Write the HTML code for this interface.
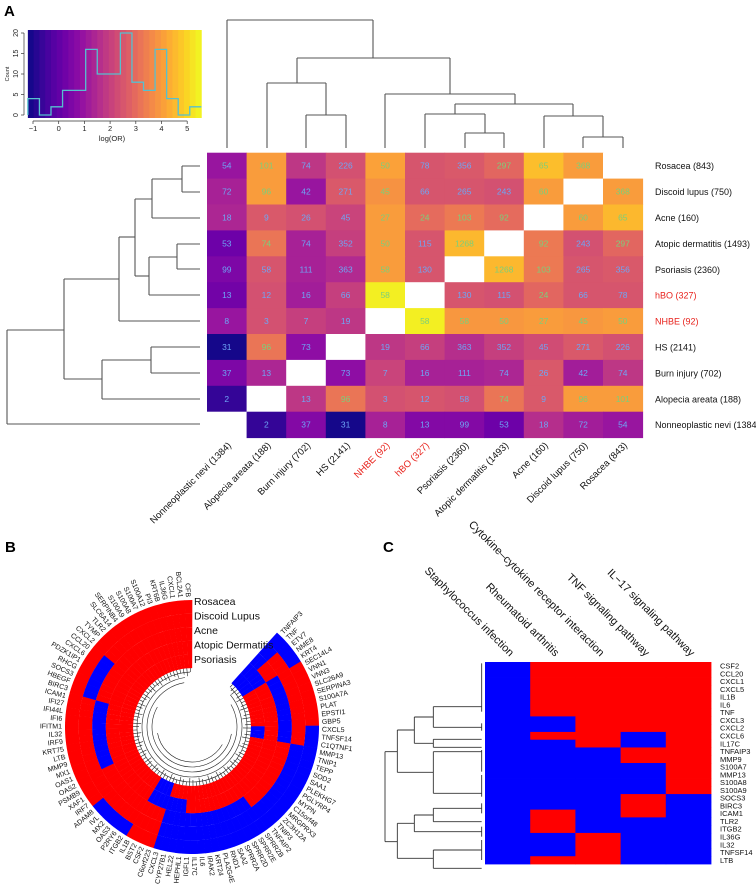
<!DOCTYPE html>
<html><head><meta charset="utf-8">
<style>
html,body{margin:0;padding:0;background:#fff;}
svg{display:block;font-family:"Liberation Sans",Arial,sans-serif;}
</style></head>
<body>
<svg id="fig" width="756" height="889" viewBox="0 0 756 889" xmlns="http://www.w3.org/2000/svg">
<text x="4" y="16" font-size="15" font-weight="bold">A</text>
<text x="5" y="552" font-size="15" font-weight="bold">B</text>
<text x="383" y="552" font-size="15" font-weight="bold">C</text>
<g id="gA"></g>
<g id="gKey"></g>
<g id="gB"></g>
<g id="gC"></g>
</svg>
<script>
// ---------- Panel A data ----------
const rowLabels = ["Rosacea (843)","Discoid lupus (750)","Acne (160)","Atopic dermatitis (1493)","Psoriasis (2360)","hBO (327)","NHBE (92)","HS (2141)","Burn injury (702)","Alopecia areata (188)","Nonneoplastic nevi (1384)"];
const colLabels = ["Nonneoplastic nevi (1384)","Alopecia areata (188)","Burn injury (702)","HS (2141)","NHBE (92)","hBO (327)","Psoriasis (2360)","Atopic dermatitis (1493)","Acne (160)","Discoid lupus (750)","Rosacea (843)"];
const logOR = [
 [1.0,4.0,1.8,2.4,4.1,2.5,2.6,2.9,4.6,4.0,null],
 [1.3,4.0,1.0,2.6,3.8,2.5,2.5,2.4,4.0,null,4.0],
 [1.4,2.6,2.4,2.1,4.0,3.0,3.3,3.0,null,4.0,4.5],
 [0.2,3.2,1.3,2.0,4.0,2.5,4.5,null,3.3,2.4,2.9],
 [0.5,2.5,1.3,1.5,4.0,2.5,null,4.5,3.3,2.5,2.6],
 [0.3,2.4,1.2,2.0,5.4,null,2.5,2.4,2.9,2.5,2.5],
 [1.0,2.4,2.0,1.8,null,5.4,3.9,3.9,4.0,3.9,4.0],
 [-1.1,3.2,0.8,null,1.8,2.0,1.6,2.0,2.3,2.6,2.4],
 [0.5,1.4,null,0.8,2.1,1.3,1.3,1.4,2.6,1.2,1.8],
 [-0.7,null,1.8,3.2,2.4,2.5,2.4,3.2,2.6,4.0,4.0],
 [null,-0.7,0.6,-1.1,1.3,0.6,0.6,0.2,1.6,1.2,1.0]
];
const counts = [
 [54,101,74,226,50,78,356,297,65,368,null],
 [72,96,42,271,45,66,265,243,60,null,368],
 [18,9,26,45,27,24,103,92,null,60,65],
 [53,74,74,352,50,115,1268,null,92,243,297],
 [99,58,111,363,58,130,null,1268,103,265,356],
 [13,12,16,66,58,null,130,115,24,66,78],
 [8,3,7,19,null,58,58,50,27,45,50],
 [31,96,73,null,19,66,363,352,45,271,226],
 [37,13,null,73,7,16,111,74,26,42,74],
 [2,null,13,96,3,12,58,74,9,96,101],
 [null,2,37,31,8,13,99,53,18,72,54]
];
const redLabels = ["hBO (327)","NHBE (92)"];
const histEdges = [-1.2,-0.75,-0.3,0.15,0.6,1.05,1.5,1.95,2.4,2.85,3.3,3.75,4.2,4.65,5.1,5.55];
const histCounts = [4,0,2,6,6,16,10,10,20,8,6,16,4,0,2];
const keyTicksX = [-1,0,1,2,3,4,5];
const keyTicksY = [0,5,10,15,20];

// ---------- Panel C data ----------
const pathways = ["Staphylococcus infection","Rheumatoid arthritis","Cytokine\u2013cytokine receptor interaction","TNF signaling pathway","IL\u221217 signaling pathway"];
const cGenes = ["CSF2","CCL20","CXCL1","CXCL5","IL1B","IL6","TNF","CXCL3","CXCL2","CXCL6","IL17C","TNFAIP3","MMP9","S100A7","MMP13","S100A8","S100A9","SOCS3","BIRC3","ICAM1","TLR2","ITGB2","IL36G","IL32","TNFSF14","LTB"];
const cMatrix = [
 [0,1,1,1,1],[0,1,1,1,1],[0,1,1,1,1],[0,1,1,1,1],[0,1,1,1,1],[0,1,1,1,1],[0,1,1,1,1],
 [0,0,1,1,1],[0,0,1,1,1],[0,1,1,0,1],[0,0,1,0,1],[0,0,0,1,1],[0,0,0,1,1],
 [0,0,0,0,1],[0,0,0,0,1],[0,0,0,0,1],[0,0,0,0,1],
 [0,0,0,1,0],[0,0,0,1,0],[0,1,0,1,0],[0,1,0,0,0],[0,1,0,0,0],
 [0,0,1,0,0],[0,0,1,0,0],[0,0,1,0,0],[0,1,1,0,0]
];

// ---------- Panel B data ----------
const bDiseases = ["Rosacea","Discoid Lupus","Acne","Atopic Dermatitis","Psoriasis"];
const bGenes = ["TNFAIP3","TNF","ETV7","NME8","KRT4","SEC14L4","VNN1","VNN3","SLC26A9","SERPINA3","S100A7A","PLAT","EPSTI1","GBP5","CXCL5","TNFSF14","C1QTNF1","MMP13","TNIP1","TEPP","SOD2","SAA1","PLEKHG7","PGLYRP4","MYPN","C15orf48","MRGPRX3","ZC3H12A","TNIP3","TNFAIP2","SPRR2B","SPRR2E","SPRR2D","SPRR2A","SAA2","RND1","PLA2G4E","KRT24","IRAK2","IL6","IL17C","IGFL1","HEPHL1","HEL22","CYP27B1","CXCL3","C6orf223","CSF2","BST2","IL1B","ITGB2","P2RY6","OAS3","MX2","IVL","ADAM8","IRF7","XAF1","PSMB9","OAS2","OAS1","MX1","MMP9","LTB","KRT75","IRF9","IL32","IFITM1","IFI6","IFI44L","IFI27","ICAM1","BIRC3","HBEGF","SOCS3","RHCG","PDZK1IP1","CXCL6","CCL20","CXCL2","TYMP","TLR2","SLC6A14","SERPINB4","S100A9","S100A8","S100A7","S100A12","PI3","KRT6B","IL36G","CXCL1","BCL2A1","CFB"];
const bStatus = ["00000","00000","01100","01100","01100","11011","11011","11011","11011","11011","11011","11011","11011","11011",
 "01010","01010","01010","00111","00111","00111","00111","00111","00111","00111","00111","00111","00111","00111","00111","00111",
 "00011","00011","00011","00011","00011","00011","00011","00011","00011","00011","00011","00011","00001","00001","00001","00001",
 "11100","11100","11100","11100","01111","01111","01111","01111","01111","01111",
 "11111","11111","11111","11111","11011","11011","11011","11011","11011","11011","11011","11011","11011","11011","11011","11011",
 "10111","10111","10111","10111","10111","10111","10111",
 "11111","11111","11111","11111","11111","11111","11111","11111","11111","11111","11111","11111","11111","11111","11111","11111","11111","11111"];

const NS="http://www.w3.org/2000/svg";
function mk(tag, attrs, parent){const e=document.createElementNS(NS,tag);for(const k in attrs)e.setAttribute(k,attrs[k]);parent.appendChild(e);return e;}
const plasmaStops=["#0d0887","#41049d","#6a00a8","#8f0da4","#b12a90","#cc4778","#e16462","#f2844b","#fca636","#fcce25","#f0f921"];
function hex(c){return [parseInt(c.slice(1,3),16),parseInt(c.slice(3,5),16),parseInt(c.slice(5,7),16)];}
function plasma(t){t=Math.max(0,Math.min(1,t));const p=t*10,i=Math.min(9,Math.floor(p)),f=p-i;const a=hex(plasmaStops[i]),b=hex(plasmaStops[i+1]);return "rgb("+a.map((v,k)=>Math.round(v+(b[k]-v)*f)).join(",")+")";}
const LMIN=-1.2,LMAX=5.55;
function colorOf(v){return plasma((v-LMIN)/(LMAX-LMIN));}

// ---------- Panel A heatmap ----------
const gA=document.getElementById('gA');
const hx0=207,hy0=152.7,cw=39.6,rh=25.9;
const xCol=c=>hx0+c*cw, yRow=r=>hy0+r*rh;
for(let r=0;r<rowLabels.length;r++){
  for(let c=0;c<colLabels.length;c++){
    const v=logOR[r][c];
    const rect=mk('rect',{x:xCol(c),y:yRow(r),width:cw+0.5,height:rh+0.5,fill:v===null?'#ffffff':colorOf(v)},gA);
    
    
    if(counts[r][c]!==null){
      const t=mk('text',{x:xCol(c)+cw/2,y:yRow(r)+rh/2+3,'font-size':8.5,'text-anchor':'middle',fill:v<2.9?'#6ea6f5':'#7ccf7a'},gA);
      t.textContent=counts[r][c];
      
      
    }
  }
  const rl=mk('text',{x:655,y:yRow(r)+rh/2+3.5,'font-size':9,fill:redLabels.includes(rowLabels[r])?'#e8231d':'#111'},gA);
  rl.textContent=rowLabels[r];
  
  
}
for(let c=0;c<colLabels.length;c++){
  const cx=xCol(c)+cw/2+5, cy=446;
  const t=mk('text',{x:cx,y:cy,'font-size':9.5,'text-anchor':'end',transform:`rotate(-45 ${cx} ${cy})`,fill:redLabels.includes(colLabels[c])?'#e8231d':'#111'},gA);
  t.textContent=colLabels[c];
  
  
}
const topDend=[[227,20,373,20],[227,20,227,148],[373,20,373,58],[297,58,450,58],[297,58,297,83],[267,83,326,83],[267,83,267,148],[326,83,326,115],[306,115,346,115],[306,115,306,148],[346,115,346,148],
[450,58,450,94],[385,94,515,94],[385,94,385,148],[515,94,515,104],[455,104,573,104],[455,104,455,114],[425,114,485,114],[425,114,425,148],[485,114,485,133],[465,133,504,133],[465,133,465,148],[504,133,504,148],
[573,104,573,116],[544,116,603,116],[544,116,544,148],[603,116,603,137],[583,137,623,137],[583,137,583,148],[623,137,623,148]];
const leftDend=[[7,330,7,424],[7,424,200,424],[7,330,64,330],[64,279,64,379],[64,279,119,279],[119,237,119,321],[119,321,200,321],[119,237,135,237],[135,199,135,276],[135,199,152,199],[152,179,152,218],[152,218,200,218],[152,179,182,179],[182,166,182,192],[182,166,200,166],[182,192,200,192],
[135,276,149,276],[149,257,149,295],[149,295,200,295],[149,257,177,257],[177,244,177,269],[177,244,200,244],[177,269,200,269],
[64,379,102,379],[102,360,102,399],[102,399,200,399],[102,360,151,360],[151,347,151,373],[151,347,200,347],[151,373,200,373]];
const dg=mk('g',{stroke:'#555','stroke-width':1.1,fill:'none'},gA);


topDend.concat(leftDend).forEach(l=>mk('line',{x1:l[0],y1:l[1],x2:l[2],y2:l[3]},dg));

// ---------- Color key histogram ----------
const gK=document.getElementById('gKey');
const kx=v=>33+(v+1)*25.7, ky=c=>115-c*4.1;
for(let i=0;i<30;i++){
  const a=LMIN+(LMAX-LMIN)*i/30,b=LMIN+(LMAX-LMIN)*(i+1)/30;
  mk('rect',{x:kx(a),y:30,width:kx(b)-kx(a)+0.4,height:88,fill:colorOf((a+b)/2)},gK);
}
let pd='M'+kx(histEdges[0])+' '+ky(0);
for(let i=0;i<histCounts.length;i++){pd+=' L'+kx(histEdges[i])+' '+ky(histCounts[i])+' L'+kx(histEdges[i+1])+' '+ky(histCounts[i]);}
const hp=mk('path',{d:pd,fill:'none',stroke:'#56c0cf','stroke-width':1.3},gK);


mk('line',{x1:kx(-1),y1:121,x2:kx(5),y2:121,stroke:'#333','stroke-width':0.7},gK);
keyTicksX.forEach(v=>{mk('line',{x1:kx(v),y1:121,x2:kx(v),y2:124,stroke:'#333','stroke-width':0.7},gK);const t=mk('text',{x:kx(v),y:131,'font-size':7.5,'text-anchor':'middle',fill:'#222'},gK);t.textContent=v<0?'\u22121':v;});
mk('line',{x1:24,y1:ky(0),x2:24,y2:ky(20),stroke:'#333','stroke-width':0.7},gK);
keyTicksY.forEach(v=>{mk('line',{x1:21,y1:ky(v),x2:24,y2:ky(v),stroke:'#333','stroke-width':0.7},gK);const t=mk('text',{x:18,y:ky(v),'font-size':7,'text-anchor':'middle',transform:`rotate(-90 18 ${ky(v)})`,fill:'#222'},gK);t.textContent=v;});
{const t=mk('text',{x:112,y:141,'font-size':7.5,'text-anchor':'middle',fill:'#222'},gK);t.textContent='log(OR)';
 const u=mk('text',{x:9,y:74,'font-size':5.5,'text-anchor':'middle',transform:'rotate(-90 9 74)',fill:'#222'},gK);u.textContent='Count';}

// ---------- Panel B circular ----------
const gB=document.getElementById('gB');
const CX=192,CY=727,RI=59,RO=127,A0=42,A1=360;
const rw=(RO-RI)/5, step=(A1-A0)/bGenes.length;
function pt(r,a){const t=a*Math.PI/180;return [CX+r*Math.sin(t),CY-r*Math.cos(t)];}
function sector(r1,r2,a1,a2){const p1=pt(r2,a1),p2=pt(r2,a2),p3=pt(r1,a2),p4=pt(r1,a1);const lg=(a2-a1)>180?1:0;
 return `M${p1[0]} ${p1[1]} A${r2} ${r2} 0 ${lg} 1 ${p2[0]} ${p2[1]} L${p3[0]} ${p3[1]} A${r1} ${r1} 0 ${lg} 0 ${p4[0]} ${p4[1]} Z`;}
bGenes.forEach((g,i)=>{
  const a1=A0+i*step,a2=a1+step+0.15;
  for(let k=0;k<5;k++){
    const r2=RO-k*rw,r1=r2-rw-0.1;
    const s=mk('path',{d:sector(r1,r2,a1,a2),fill:bStatus[i][k]==='1'?'#ff0000':'#0000ff'},gB);
    
    
  }
  const am=a1+step/2,p=pt(RO+3,am);
  let rot,anchor;
  if(am<180){rot=am-90;anchor='start';}else{rot=am+90;anchor='end';}
  const t=mk('text',{x:p[0],y:p[1]+2.3,'font-size':7,'text-anchor':anchor,transform:`rotate(${rot} ${p[0]} ${p[1]})`,fill:'#111'},gB);
  t.textContent=g;
  
  
});
const bd=mk('g',{stroke:'#222','stroke-width':0.6,fill:'none'},gB);


[[55,A0+3,358],[50,A0+8,352],[45,60,350],[40,100,300],[35,120,260]].forEach(c=>mk('path',{d:(()=>{const p1=pt(c[0],c[1]),p2=pt(c[0],c[2]);return `M${p1[0]} ${p1[1]} A${c[0]} ${c[0]} 0 ${(c[2]-c[1])>180?1:0} 1 ${p2[0]} ${p2[1]}`;})()},bd));
bGenes.forEach((g,i)=>{const am=A0+(i+0.5)*step;const p1=pt(RI,am),p2=pt(RI-4-(i%3)*2,am);mk('line',{x1:p1[0],y1:p1[1],x2:p2[0],y2:p2[1]},bd);});
bDiseases.forEach((d,k)=>{const t=mk('text',{x:194,y:605+k*14.5,'font-size':10.5,fill:'#111'},gB);t.textContent=d;});

// ---------- Panel C heatmap ----------
const gC=document.getElementById('gC');
const cx0=485,cy0=662,ccw=(711-485)/5,crh=(864-662)/cGenes.length;
cGenes.forEach((g,r)=>{
  cMatrix[r].forEach((v,c)=>{
    const rc=mk('rect',{x:cx0+c*ccw,y:cy0+r*crh,width:ccw+0.4,height:crh+0.4,fill:v?'#ff0000':'#0000ff'},gC);
    
    
  });
  const t=mk('text',{x:720,y:cy0+r*crh+crh/2+2.7,'font-size':7.5,fill:'#111'},gC);
  t.textContent=g;
  
  
});
pathways.forEach((p,c)=>{
  const x=cx0+c*ccw+ccw/2+2,y=657;
  const t=mk('text',{x:x,y:y,'font-size':11,'text-anchor':'end',transform:`rotate(45 ${x} ${y})`,fill:'#111'},gC);
  t.textContent=p;
  
  
});
const cd=mk('g',{stroke:'#333','stroke-width':0.9,fill:'none'},gC);


const Z=(zx,zy)=>[380+zx/3,640+zy/3];
const cDend=[[15,335,15,605],[15,335,52,335],[15,605,52,605],[52,270,52,397],[52,270,103,270],[52,397,160,397],[103,231,103,310],[103,231,160,231],[103,310,160,310],
[160,200,160,262],[160,200,305,200],[160,262,305,262],[160,298,160,322],[160,298,305,298],[160,322,305,322],[160,335,160,460],[160,335,305,335],[160,460,305,460],
[52,550,52,655],[52,550,103,550],[52,655,160,655],[103,525,103,575],[103,525,160,525],[103,575,305,575],[160,505,160,545],[160,505,305,505],[160,545,305,545],
[160,630,160,685],[160,630,305,630],[160,685,305,685],
[305,70,305,215],[305,250,305,272],[305,330,305,395],[305,405,305,470],[305,490,305,520],[305,560,305,590],[305,600,305,660]];
cDend.forEach(l=>{const a=Z(l[0],l[1]),b=Z(l[2],l[3]);mk('line',{x1:a[0],y1:a[1],x2:b[0],y2:b[1]},cd);});
</script>
</body></html>
